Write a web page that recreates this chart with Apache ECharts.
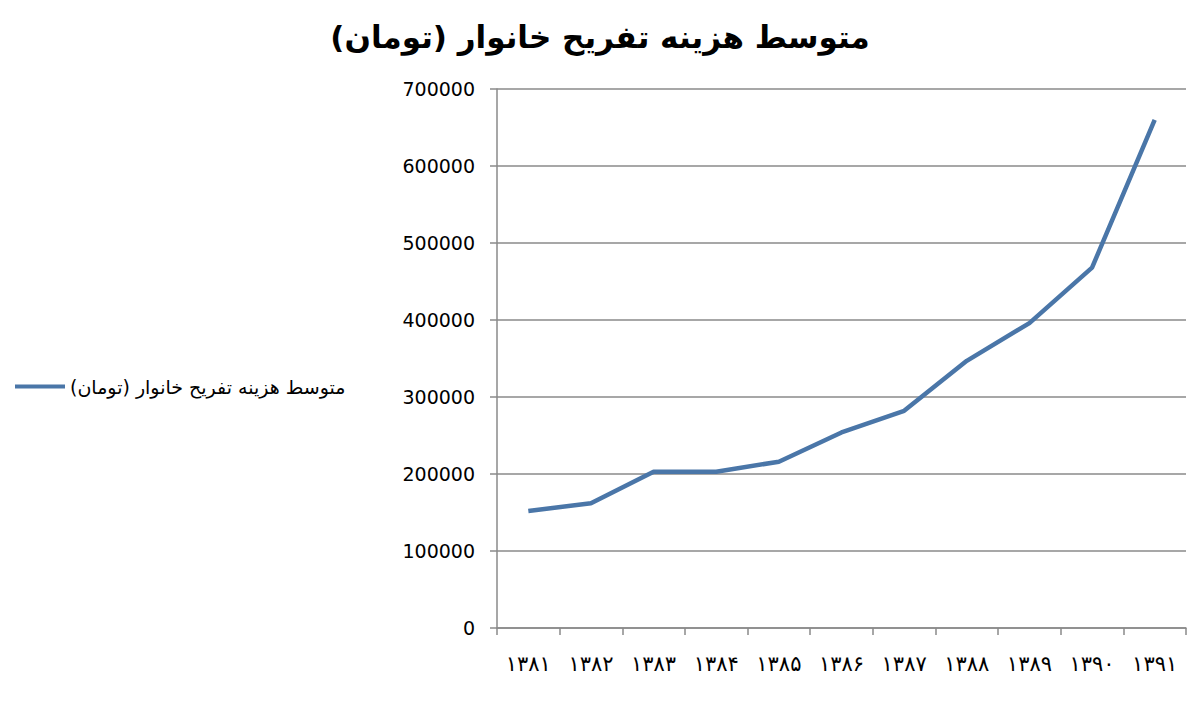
<!DOCTYPE html>
<html>
<head>
<meta charset="utf-8">
<script src="https://cdn.jsdelivr.net/npm/echarts@6/dist/echarts.min.js"></script>
<style>html,body{margin:0;padding:0;background:#fff}#c{width:1200px;height:701px}</style>
</head>
<body>
<div id="c"></div>
<script>
const titleText = "متوسط هزینه تفریح خانوار (تومان)";
const seriesName = "متوسط هزینه تفریح خانوار (تومان)";
const years = ["۱۳۸۱","۱۳۸۲","۱۳۸۳","۱۳۸۴","۱۳۸۵","۱۳۸۶","۱۳۸۷","۱۳۸۸","۱۳۸۹","۱۳۹۰","۱۳۹۱"];
const cost = [152000, 162000, 203000, 203000, 216000, 254000, 282000, 347000, 396000, 468000, 660000];

const lineColor = "#4a76a8";
const gray = "#8a8a8a";
const chart = echarts.init(document.getElementById("c"), null, { renderer: "svg" });
chart.setOption({
  backgroundColor: "#fff",
  animation: false,
  title: {
    text: titleText, left: "center", top: 16,
    textStyle: { fontFamily: "DejaVu Sans", fontWeight: "bold", fontSize: 31, color: "#000" }
  },
  legend: {
    left: 10, top: 372, icon: "rect", itemWidth: 50, itemHeight: 4, itemGap: 6,
    textStyle: { fontFamily: "DejaVu Sans", fontSize: 19, color: "#000", padding: [0, 0, 0, 0] },
    data: [{ name: seriesName, itemStyle: { color: lineColor } }]
  },
  grid: { left: 497, right: 14, top: 89, bottom: 73, containLabel: false },
  xAxis: {
    type: "category", data: years, boundaryGap: true,
    axisLine: { lineStyle: { color: gray, width: 1.5 } },
    axisTick: { show: true, interval: 0, length: 7, lineStyle: { color: gray, width: 1.5 } },
    axisLabel: { interval: 0, margin: 25, fontFamily: "DejaVu Sans", fontSize: 21, color: "#000" }
  },
  yAxis: {
    type: "value", min: 0, max: 700000, interval: 100000,
    axisLine: { show: true, lineStyle: { color: gray, width: 1.5 } },
    axisTick: { show: true, length: 7, lineStyle: { color: gray, width: 1.5 } },
    splitLine: { lineStyle: { color: gray, width: 1.5 } },
    axisLabel: { margin: 22, fontFamily: "DejaVu Sans", fontSize: 19, color: "#000", formatter: (v) => String(v) }
  },
  series: [{
    name: seriesName, type: "line", data: cost,
    showSymbol: false, symbol: "none",
    lineStyle: { color: lineColor, width: 4.5 },
    itemStyle: { color: lineColor }
  }]
});
</script>
</body>
</html>
